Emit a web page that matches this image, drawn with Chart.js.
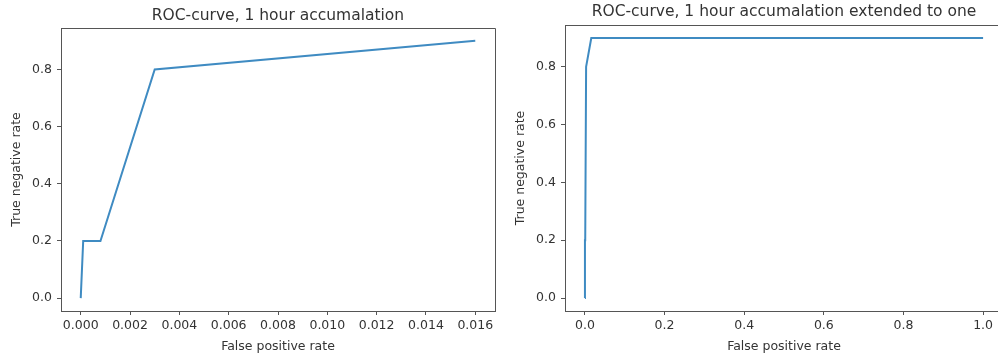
<!DOCTYPE html>
<html>
<head>
<meta charset="utf-8">
<script src="https://cdn.jsdelivr.net/npm/chart.js@4/dist/chart.umd.min.js"></script>
<style>
  html, body { margin: 0; padding: 0; background: #fff; overflow: hidden; width: 998px; height: 358px; }
  .wrap { position: absolute; top: 0; height: 358px; overflow: hidden; }
  #w1 { left: 0; width: 499px; }
  #w2 { left: 499px; width: 499px; }
  canvas { position: absolute; top: 0; left: 0; }
</style>
</head>
<body>
<div class="wrap" id="w1"><canvas id="c1" width="499" height="358"></canvas></div>
<div class="wrap" id="w2"><canvas id="c2" width="512" height="358"></canvas></div>
<script>
// ---- data ----
const titleLeft = 'ROC-curve, 1 hour accumalation';
const titleRight = 'ROC-curve, 1 hour accumalation extended to one';
const xLabel = 'False positive rate';
const yLabel = 'True negative rate';

const fprLeft = [0, 0.0001, 0.0008, 0.003, 0.016];
const tnrLeft = [0, 0.2, 0.2, 0.8, 0.9];

const fprRight = [0, 0.0001, 0.0008, 0.003, 0.016, 1.0];
const tnrRight = [0, 0.2, 0.2, 0.8, 0.9, 0.9];

const xTicksLeft = [0, 0.002, 0.004, 0.006, 0.008, 0.010, 0.012, 0.014, 0.016];
const xTickLabelsLeft = ['0.000', '0.002', '0.004', '0.006', '0.008', '0.010', '0.012', '0.014', '0.016'];
const xTicksRight = [0, 0.2, 0.4, 0.6, 0.8, 1.0];
const xTickLabelsRight = ['0.0', '0.2', '0.4', '0.6', '0.8', '1.0'];
const yTicks = [0, 0.2, 0.4, 0.6, 0.8];
const yTickLabels = ['0.0', '0.2', '0.4', '0.6', '0.8'];

// ---- styling ----
const FONT = 'DejaVu Sans';
const TEXT = '#333';
const SPINE = '#555';
const LINE = '#3f8bc2';

const frame = {
  id: 'frame',
  afterDraw(chart) {
    const a = chart.chartArea, ctx = chart.ctx;
    const t = Math.round(a.top) + 0.5, r = Math.round(a.right) + 0.5, b = Math.round(a.bottom) + 0.5;
    ctx.save();
    ctx.strokeStyle = SPINE;
    ctx.lineWidth = 1;
    ctx.beginPath();
    ctx.moveTo(Math.round(a.left), t);
    ctx.lineTo(r, t);
    ctx.lineTo(r, b);
    ctx.stroke();
    ctx.restore();
  }
};

function makeChart(id, xs, ys, title, titlePad, xMin, xMax, xTicks, xTickLabels, yAxisWidth, yTitlePad, rightPad) {
  const pts = xs.map((x, i) => ({ x: x, y: ys[i] }));
  return new Chart(document.getElementById(id), {
    type: 'scatter',
    data: { datasets: [{
      data: pts, showLine: true, borderColor: LINE, borderWidth: 2,
      pointRadius: 0, fill: false, tension: 0
    }]},
    options: {
      responsive: false, animation: false, devicePixelRatio: 1,
      layout: { padding: { left: 0, right: rightPad, top: 0, bottom: 0 } },
      plugins: {
        legend: { display: false }, tooltip: { enabled: false },
        title: { display: true, text: title, color: TEXT, fullSize: false,
                 font: { family: FONT, size: 15.5, weight: 'normal', lineHeight: 1.2 },
                 padding: titlePad }
      },
      scales: {
        x: {
          type: 'linear', min: xMin, max: xMax,
          grid: { display: true, drawOnChartArea: false, drawTicks: true, tickLength: 4, color: SPINE },
          border: { display: true, color: SPINE },
          ticks: { color: TEXT, font: { family: FONT, size: 12.5 }, padding: 3,
                   maxRotation: 0, autoSkip: false,
                   callback: (v) => { const i = xTicks.indexOf(v); return i >= 0 ? xTickLabels[i] : ''; } },
          afterBuildTicks: (s) => { s.ticks = xTicks.map(v => ({ value: v })); },
          afterFit: (s) => { s.height = 47; s.paddingLeft = 0; s.paddingRight = 0; },
          title: { display: true, text: xLabel, color: TEXT,
                   font: { family: FONT, size: 12.5 }, padding: { top: 0, bottom: 4 } }
        },
        y: {
          type: 'linear', min: -0.045, max: 0.945,
          grid: { display: true, drawOnChartArea: false, drawTicks: true, tickLength: 4, color: SPINE },
          border: { display: true, color: SPINE },
          ticks: { color: TEXT, font: { family: FONT, size: 12.5 }, padding: 5,
                   autoSkip: false,
                   callback: (v) => { const i = yTicks.indexOf(v); return i >= 0 ? yTickLabels[i] : ''; } },
          afterBuildTicks: (s) => { s.ticks = yTicks.map(v => ({ value: v })); },
          afterFit: (s) => { s.width = yAxisWidth; s.paddingTop = 0; s.paddingBottom = 0; },
          title: { display: true, text: yLabel, color: TEXT,
                   font: { family: FONT, size: 12.5 }, padding: { top: yTitlePad, bottom: 0 } }
        }
      }
    },
    plugins: [frame]
  });
}

makeChart('c1', fprLeft, tnrLeft, titleLeft, { top: 6.5, bottom: 2.9 },
          -0.0008, 0.0168, xTicksLeft, xTickLabelsLeft, 61, 9, 4);
makeChart('c2', fprRight, tnrRight, titleRight, { top: 3, bottom: 3.4 },
          -0.05, 1.05, xTicksRight, xTickLabelsRight, 66, 14, 8);
</script>
</body>
</html>
